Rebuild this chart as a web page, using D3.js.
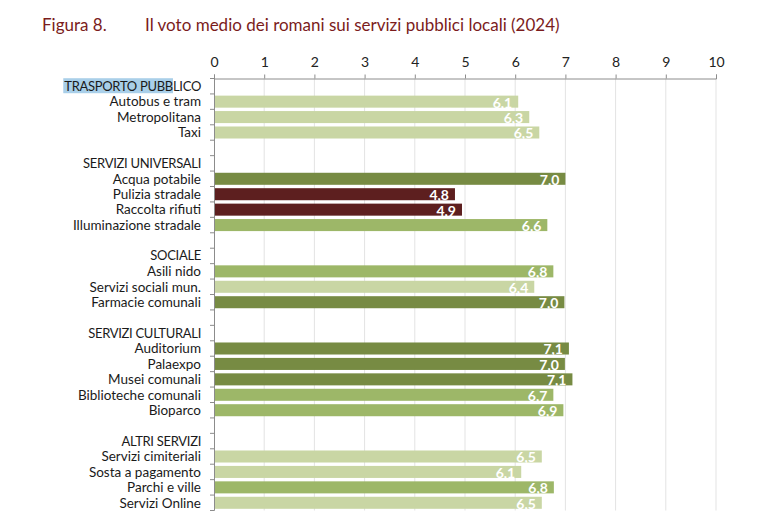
<!DOCTYPE html>
<html>
<head>
<meta charset="utf-8">
<script src="https://cdn.jsdelivr.net/npm/d3@7"></script>
<style>
  body { margin: 0; background: #fff; }
  text { font-family: Lato, "Open Sans", sans-serif; }
</style>
</head>
<body>
<div id="chart"></div>
<script>
// rows top to bottom; blank strings are spacer rows, group headers have no value
const labels = [
  "TRASPORTO PUBBLICO", "Autobus e tram", "Metropolitana", "Taxi", "",
  "SERVIZI UNIVERSALI", "Acqua potabile", "Pulizia stradale", "Raccolta rifiuti", "Illuminazione stradale", " ",
  "SOCIALE", "Asili nido", "Servizi sociali mun.", "Farmacie comunali", "  ",
  "SERVIZI CULTURALI", "Auditorium", "Palaexpo", "Musei comunali", "Biblioteche comunali", "Bioparco", "   ",
  "ALTRI SERVIZI", "Servizi cimiteriali", "Sosta a pagamento", "Parchi e ville", "Servizi Online"
];
const values = [
  null, 6.06, 6.28, 6.48, null,
  null, 7.0, 4.8, 4.94, 6.64, null,
  null, 6.76, 6.38, 6.98, null,
  null, 7.07, 6.99, 7.14, 6.76, 6.96, null,
  null, 6.53, 6.12, 6.77, 6.53
];
// displayed values
const shown = [
  null, 6.1, 6.3, 6.5, null,
  null, 7.0, 4.8, 4.9, 6.6, null,
  null, 6.8, 6.4, 7.0, null,
  null, 7.1, 7.0, 7.1, 6.7, 6.9, null,
  null, 6.5, 6.1, 6.8, 6.5
];
// colour class of each bar: l = light, m = medium, d = dark, r = red
const tone = [
  null, "l", "l", "l", null,
  null, "d", "r", "r", "m", null,
  null, "m", "l", "d", null,
  null, "d", "d", "d", "m", "m", null,
  null, "l", "l", "m", "l"
];
const xTicks = [0, 1, 2, 3, 4, 5, 6, 7, 8, 9, 10];

const colors = { l: "#c9d6a4", m: "#9db768", d: "#778b43", r: "#5d1f1f" };

const width = 767, height = 529;
const svg = d3.select("#chart").append("svg")
  .attr("width", width)
  .attr("height", height);

const x = d3.scaleLinear().domain([0, 10]).range([214, 716]);
const y = d3.scaleBand().domain(labels).range([78.5, 510.5]).paddingInner(0.22).paddingOuter(0.11);
const step = y.step();

// title
svg.append("text")
  .attr("x", 42).attr("y", 31)
  .attr("fill", "#7b1c1c").attr("font-size", 17)
  .text("Figura 8.");
svg.append("text")
  .attr("x", 145).attr("y", 31)
  .attr("fill", "#7b1c1c").attr("font-size", 17)
  .text("Il voto medio dei romani sui servizi pubblici locali (2024)");

// gridlines
svg.append("g").selectAll("line")
  .data(xTicks.slice(1))
  .enter().append("line")
  .attr("x1", d => x(d)).attr("x2", d => x(d))
  .attr("y1", 78.5).attr("y2", 510.5)
  .attr("stroke", "#e3e3e3").attr("stroke-width", 1);

// top axis
const xAxis = svg.append("g")
  .attr("transform", "translate(0,78.5)")
  .call(d3.axisTop(x).tickValues(xTicks).tickSize(4).tickPadding(8).tickFormat(d3.format("d")));
xAxis.select(".domain").attr("stroke", "#8c8c8c");
xAxis.selectAll(".tick line").attr("stroke", "#8c8c8c");
xAxis.selectAll(".tick text").attr("font-size", 14).attr("fill", "#222")
  .style("font-family", "Lato, sans-serif");

// left axis line with ticks at row boundaries
const yStart = 78.5;
svg.append("line")
  .attr("x1", 214.5).attr("x2", 214.5)
  .attr("y1", yStart).attr("y2", 510.5)
  .attr("stroke", "#8c8c8c");
svg.append("g").selectAll("line")
  .data(d3.range(labels.length + 1))
  .enter().append("line")
  .attr("x1", 210).attr("x2", 214.5)
  .attr("y1", i => yStart + i * step).attr("y2", i => yStart + i * step)
  .attr("stroke", "#8c8c8c");

const hl = svg.append("rect").attr("fill", "#a9cfe9");

// category labels
const catText = svg.append("g").selectAll("text")
  .data(labels)
  .enter().append("text")
  .attr("x", 201)
  .attr("y", d => y(d) + y.bandwidth() / 2)
  .attr("dy", "0.35em")
  .attr("text-anchor", "end")
  .attr("font-size", 13.5)
  .attr("fill", "#1a1a1a")
  .text(d => d.trim());

// headers in capitals set a bit narrower, as in the original font
catText.filter(d => d.trim() && d === d.toUpperCase())
  .attr("font-size", 13)
  .attr("letter-spacing", "-0.3px");

// selection highlight behind "TRASPORTO PUBB"
const first = catText.filter((d, i) => i === 0).node();
const full = first.getComputedTextLength();
const part = first.getSubStringLength(0, 14);
hl.attr("x", 201 - full - 1)
  .attr("y", y(labels[0]) + y.bandwidth() / 2 - 8)
  .attr("width", part + 1)
  .attr("height", 15);

const rows = labels.map((l, i) => ({ label: l, value: values[i], shown: shown[i], tone: tone[i] }))
  .filter(d => d.value != null);

// bars
svg.append("g").selectAll("rect")
  .data(rows)
  .enter().append("rect")
  .attr("x", x(0) + 1)
  .attr("y", d => y(d.label))
  .attr("width", d => x(d.value) - x(0) - 1)
  .attr("height", y.bandwidth())
  .attr("fill", d => colors[d.tone]);

// value labels
const fmt = d3.format(".1f");
svg.append("g").selectAll("text")
  .data(rows)
  .enter().append("text")
  .attr("x", d => x(d.value) - 6)
  .attr("y", d => y(d.label) + y.bandwidth() / 2 + 1)
  .attr("dy", "0.35em")
  .attr("text-anchor", "end")
  .attr("font-size", 14)
  .attr("font-weight", "bold")
  .attr("fill", "#fff")
  .text(d => fmt(d.shown).replace(".", ","));
</script>
</body>
</html>
